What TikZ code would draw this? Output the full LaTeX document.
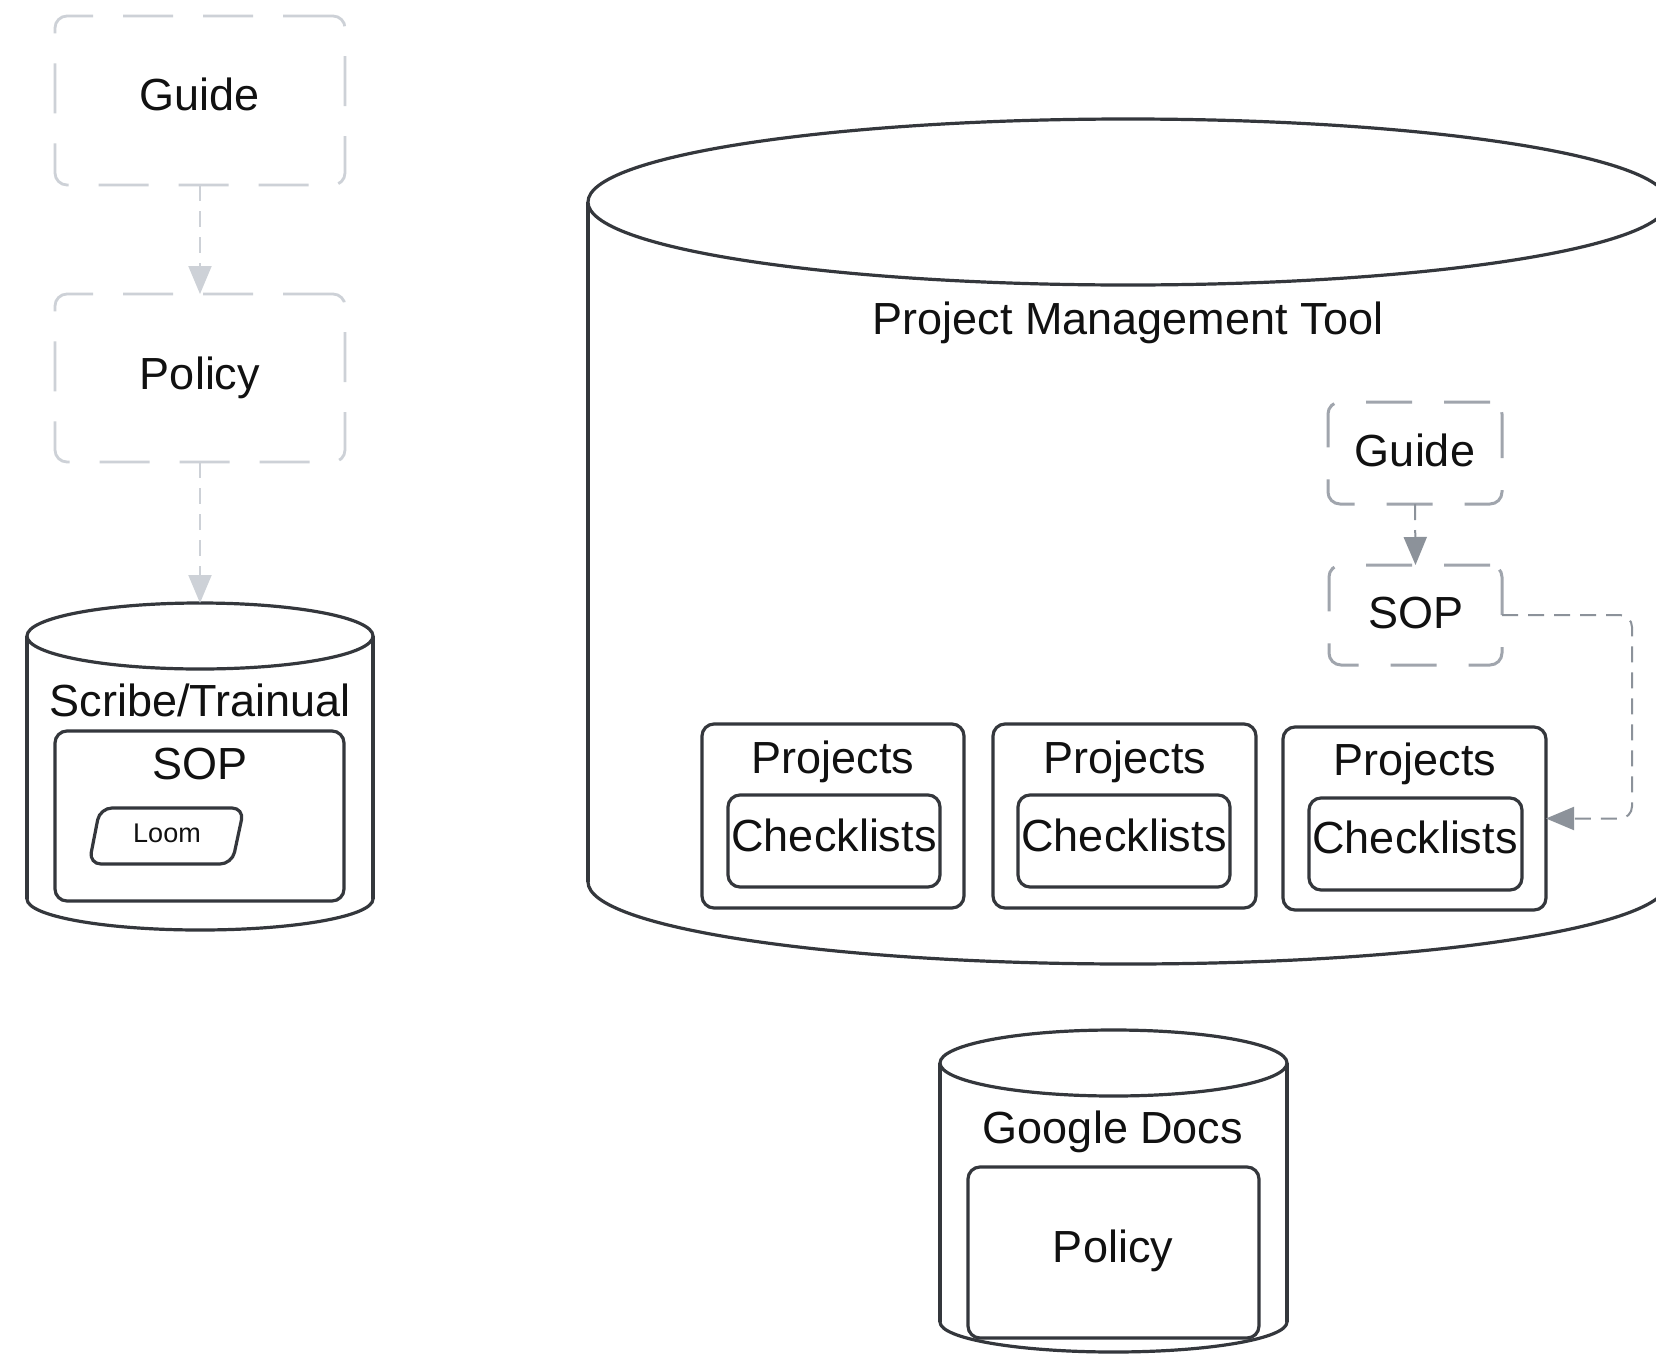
\documentclass[tikz,border=0pt]{standalone}
\usepackage{fontspec}
\setmainfont{Liberation Sans}
\usetikzlibrary{arrows.meta}
\definecolor{ink}{HTML}{34373C}
\definecolor{lgray}{HTML}{CDD1D7}
\definecolor{mgray}{HTML}{A0A5AD}
\definecolor{agray}{HTML}{8C929A}
\definecolor{textc}{HTML}{111111}
\newcommand{\mycyl}[8]{%
  \fill[white] (#1,#5) rectangle (#2,#7);
  \fill[white] (#3,#7) ellipse [x radius=#4pt, y radius=#8pt];
  \draw[cyl] (#1,#5) -- (#1,#7);
  \draw[cyl] (#2,#5) -- (#2,#7);
  \begin{scope}
    \clip (#1-20,#7) rectangle (#2+20,#7+100);
    \draw[cyl] (#3,#7) ellipse [x radius=#4pt, y radius=#8pt];
  \end{scope}
  \draw[cyl, fill=white] (#3,#5) ellipse [x radius=#4pt, y radius=#6pt];
}
\begin{document}
\begin{tikzpicture}[x=0.5pt,y=-0.5pt,
  every node/.style={inner sep=0pt, outer sep=0pt, text=textc},
  lbl/.style={font=\fontsize{22.5}{27}\selectfont, text height=16.2pt, text depth=0pt},
  small/.style={font=\fontsize{13.5}{16}\selectfont, text height=9.7pt, text depth=0pt},
  lbox/.style={draw=lgray, line width=1.4pt, dash pattern=on 25pt off 15pt, rounded corners=6pt},
  rbox/.style={draw=mgray, line width=1.5pt, dash pattern=on 23pt off 16pt, rounded corners=6pt},
  solidbox/.style={draw=ink, line width=1.6pt, rounded corners=6pt},
  cyl/.style={draw=ink, line width=1.6pt},
  larrow/.style={draw=lgray, line width=1pt, dash pattern=on 8pt off 5pt, -{Triangle[length=14pt,width=11.5pt]}},
  rarrow/.style={draw=agray, line width=1pt, dash pattern=on 8pt off 5pt, -{Triangle[length=14pt,width=11.5pt]}},
]
\useasboundingbox (0,0) rectangle (1656,1355);
\fill[white] (0,0) rectangle (1656,1355);
\clip (0,0) rectangle (1656,1355);

% ---------- left column ----------
\node[lbox, minimum width=145pt, minimum height=84.5pt] (lguide) at (200,100.5) {};
\node[lbl] (lguidet) at (200,94) {Guide};
\node[lbox, minimum width=145pt, minimum height=84pt] (lpolicy) at (200,378) {};
\node[lbl] (lpolicyt) at (200,373) {Policy};

% Scribe/Trainual cylinder
\mycyl{27}{373}{200}{86.5}{636}{16.5}{899}{15.5}
\node[minimum width=173pt, minimum height=163.5pt] (scribe) at (200,766.5) {};
\node[lbl] (scribet) at (200,700) {Scribe/Trainual};
\node[solidbox, minimum width=144.5pt, minimum height=85pt] (lsop) at (199.5,816) {};
\node[lbl] (lsopt) at (200,763) {SOP};
\draw[solidbox] (100,808) -- (244,808) -- (232,864) -- (89,864) -- cycle;
\node[small] (loom) at (167,833) {Loom};

\draw[larrow] (lguide.south) -- (lpolicy.north);
\draw[larrow] (lpolicy.south) -- (scribe.north);

% ---------- Project Management Tool cylinder ----------
\mycyl{588}{1668}{1128}{270}{202}{41.5}{882}{41}
\node[minimum width=540pt, minimum height=422.5pt] (pmt) at (1128,541.5) {};
\node[lbl] (pmtt) at (1128,318) {Project Management Tool};

\node[rbox, minimum width=87pt, minimum height=51pt] (rguide) at (1415,453) {};
\node[lbl] (rguidet) at (1415,450) {Guide};
\node[rbox, minimum width=86.5pt, minimum height=50pt] (rsop) at (1415.5,615) {};
\node[lbl] (rsopt) at (1416,612.5) {SOP};
\draw[rarrow] (rguide.south) -- (rsop.north);

% projects
\node[solidbox, minimum width=131pt, minimum height=92pt] (proj1) at (833,816) {};
\node[lbl] (proj1t) at (833,757) {Projects};
\node[solidbox, minimum width=106pt, minimum height=46pt] (chk1) at (834,841) {};
\node[lbl] (chk1t) at (834,835.5) {Checklists};

\node[solidbox, minimum width=131.5pt, minimum height=92pt] (proj2) at (1124.5,816) {};
\node[lbl] (proj2t) at (1125,757) {Projects};
\node[solidbox, minimum width=106pt, minimum height=46pt] (chk2) at (1124,841) {};
\node[lbl] (chk2t) at (1124,835.5) {Checklists};

\node[solidbox, minimum width=131.5pt, minimum height=91.5pt] (proj3) at (1414.5,818.5) {};
\node[lbl] (proj3t) at (1415,759) {Projects};
\node[solidbox, minimum width=106.5pt, minimum height=46pt] (chk3) at (1415.5,844) {};
\node[lbl] (chk3t) at (1415,837.5) {Checklists};

\draw[rarrow, rounded corners=6pt] (rsop.east) -- ++(130,0) |- (proj3.east);

% ---------- Google Docs cylinder ----------
\mycyl{940}{1287}{1113.5}{86.75}{1063}{16.5}{1322}{15}
\node[minimum width=173.5pt, minimum height=161pt] (gdocs) at (1113.5,1191) {};
\node[lbl] (gdocst) at (1113,1127) {Google Docs};
\node[solidbox, minimum width=145.5pt, minimum height=85.5pt] (gpolicy) at (1113.5,1252.5) {};
\node[lbl] (gpolicyt) at (1113,1246) {Policy};
\end{tikzpicture}
\end{document}
